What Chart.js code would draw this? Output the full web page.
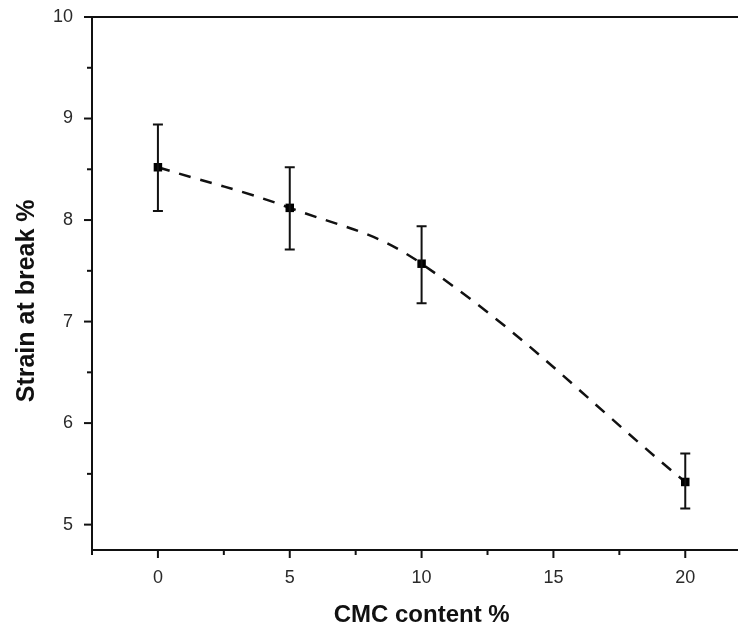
<!DOCTYPE html>
<html><head><meta charset="utf-8">
<script src="https://cdn.jsdelivr.net/npm/chart.js@4"></script>
<style>html,body{margin:0;padding:0;background:#fff;overflow:hidden}</style>
</head><body><canvas id="c" width="738" height="630"></canvas>
<script>
const cmcContent = [0, 5, 10, 20];
const strainAtBreak = [8.52, 8.12, 7.57, 5.42];
const errorUpper = [8.94, 8.52, 7.94, 5.70];
const errorLower = [8.09, 7.71, 7.18, 5.16];
const xTickValues = [-2.5, 0, 2.5, 5, 7.5, 10, 12.5, 15, 17.5, 20];
const xTickLabels = ['', '0', '', '5', '', '10', '', '15', '', '20'];
const yTickValues = [5, 5.5, 6, 6.5, 7, 7.5, 8, 8.5, 9, 9.5, 10];
const yTickLabels = ['5', '', '6', '', '7', '', '8', '', '9', '', '10'];
const xTitle = '  CMC content %';
const yTitle = 'Strain at break %     ';

const FONT = '"Liberation Sans", Arial, sans-serif';
const TICK_COLOR = '#2a2a2a';

const errorBarPlugin = {
  id: 'errorBars',
  afterDatasetsDraw(chart) {
    const {ctx, scales: {x, y}} = chart;
    ctx.save();
    ctx.strokeStyle = '#111';
    ctx.lineWidth = 2;
    const cap = 5;
    cmcContent.forEach((v, i) => {
      const px = x.getPixelForValue(v);
      const pt = y.getPixelForValue(errorUpper[i]);
      const pb = y.getPixelForValue(errorLower[i]);
      ctx.beginPath();
      ctx.moveTo(px, pt); ctx.lineTo(px, pb);
      ctx.moveTo(px - cap, pt); ctx.lineTo(px + cap, pt);
      ctx.moveTo(px - cap, pb); ctx.lineTo(px + cap, pb);
      ctx.stroke();
    });
    ctx.restore();
  }
};

const tickMarkPlugin = {
  id: 'tickMarks',
  afterDraw(chart) {
    const {ctx, scales: {x, y}} = chart;
    ctx.save();
    ctx.strokeStyle = '#111';
    ctx.lineWidth = 2;
    x.ticks.forEach((t, i) => {
      const px = x.getPixelForValue(t.value);
      const len = xTickLabels[i] ? 8 : 5;
      ctx.beginPath();
      ctx.moveTo(px, x.top); ctx.lineTo(px, x.top + len);
      ctx.stroke();
    });
    y.ticks.forEach((t, i) => {
      const py = y.getPixelForValue(t.value);
      const len = yTickLabels[i] ? 8 : 5;
      ctx.beginPath();
      ctx.moveTo(y.right, py); ctx.lineTo(y.right - len, py);
      ctx.stroke();
    });
    ctx.restore();
  }
};

new Chart(document.getElementById('c'), {
  type: 'line',
  data: {
    datasets: [{
      data: cmcContent.map((v, i) => ({x: v, y: strainAtBreak[i]})),
      borderColor: '#111',
      borderWidth: 2.5,
      borderDash: [12, 10],
      tension: 0.4,
      pointStyle: 'rect',
      pointRadius: 6,
      pointBackgroundColor: '#000',
      pointBorderColor: '#000',
      pointBorderWidth: 0,
      fill: false
    }]
  },
  options: {
    responsive: false,
    animation: false,
    layout: {autoPadding: false, padding: {top: 17, right: 0, left: 0, bottom: 0}},
    plugins: {legend: {display: false}, tooltip: {enabled: false}},
    scales: {
      x: {
        type: 'linear',
        position: 'bottom',
        min: -2.5, max: 22,
        afterBuildTicks: s => { s.ticks = xTickValues.map(v => ({value: v})); },
        afterFit: s => { s.height = 80; s.paddingLeft = 0; s.paddingRight = 0; },
        ticks: {
          autoSkip: false, maxRotation: 0,
          callback: (v, i) => xTickLabels[i],
          font: {family: FONT, size: 18}, color: TICK_COLOR, padding: 9
        },
        grid: {drawOnChartArea: false, tickLength: 8, tickColor: 'rgba(0,0,0,0)'},
        border: {display: true, color: '#111', width: 2},
        title: {display: true, text: xTitle, color: '#111',
          font: {family: FONT, size: 24, weight: 'bold'}, padding: {top: 4, bottom: 0}}
      },
      x2: {
        type: 'linear',
        position: 'top',
        min: -2.5, max: 22,
        afterFit: s => { s.height = 0; s.paddingLeft = 0; s.paddingRight = 0; },
        ticks: {display: false},
        grid: {display: false},
        border: {display: true, color: '#111', width: 2}
      },
      y: {
        type: 'linear',
        min: 4.75, max: 10,
        afterBuildTicks: s => { s.ticks = yTickValues.map(v => ({value: v})); },
        afterFit: s => { s.width = 92; s.paddingTop = 0; s.paddingBottom = 0; },
        ticks: {
          autoSkip: false,
          callback: (v, i) => yTickLabels[i],
          font: {family: FONT, size: 18}, color: TICK_COLOR, padding: 11
        },
        grid: {drawOnChartArea: false, tickLength: 8, tickColor: 'rgba(0,0,0,0)'},
        border: {display: true, color: '#111', width: 2},
        title: {display: true, text: yTitle, color: '#111',
          font: {family: FONT, size: 25, weight: 'bold'}, padding: {top: 12, bottom: 4}}
      }
    }
  },
  plugins: [errorBarPlugin, tickMarkPlugin]
});
</script>
</body></html>
